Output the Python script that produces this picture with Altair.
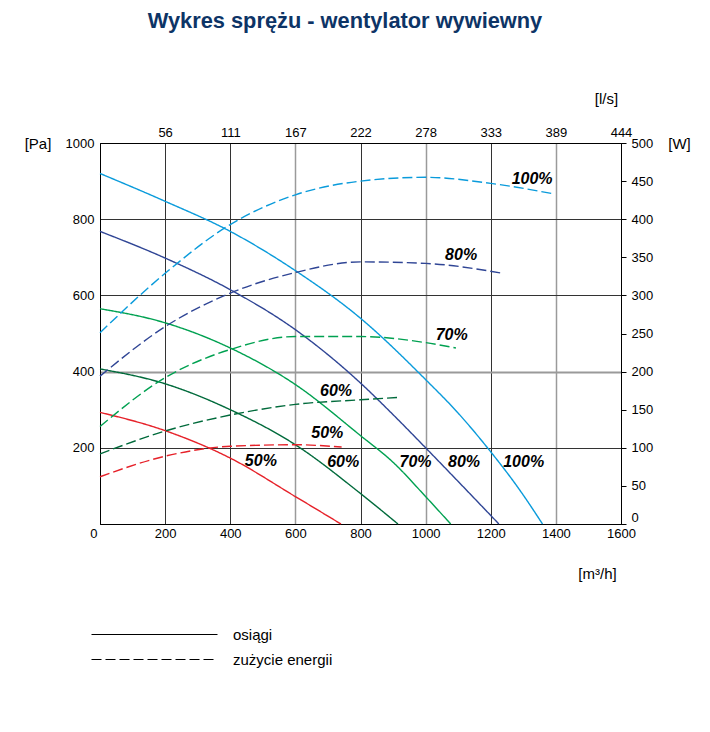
import altair as alt
import pandas as pd

TITLE = "Wykres sprężu - wentylator wywiewny"
SERIES = ["100%", "80%", "70%", "60%", "50%"]
COLORS = ["#0a9bdb", "#2f4595", "#00a151", "#006a3b", "#e62129"]
TYPES = ["osiągi", "zużycie energii"]

# x axis (m3/h) ticks and matching l/s labels
X_TICKS = [0, 200, 400, 600, 800, 1000, 1200, 1400, 1600]
LS_LABELS = ["56", "111", "167", "222", "278", "333", "389", "444"]
PA_TICKS = [200, 400, 600, 800, 1000]
W_TICKS = [0, 50, 100, 150, 200, 250, 300, 350, 400, 450, 500]

# performance curves (osiągi): flow [m3/h] -> pressure [Pa]
Q_OS_100 = [0, 200, 400, 600, 800, 1000, 1100, 1190, 1290, 1359]
PA_OS_100 = [920, 847, 768, 665, 540, 379, 291, 200, 88, 0]
Q_OS_80 = [0, 200, 400, 600, 800, 900, 1000, 1113, 1225]
PA_OS_80 = [768, 698, 615, 510, 370, 287, 200, 100, 0]
Q_OS_70 = [0, 200, 400, 600, 800, 900, 1000, 1077]
PA_OS_70 = [565, 528, 462, 366, 232, 162, 72, 0]
Q_OS_60 = [0, 200, 400, 600, 800, 915]
PA_OS_60 = [407, 368, 300, 208, 80, 0]
Q_OS_50 = [0, 200, 400, 600, 740]
PA_OS_50 = [293, 245, 173, 72, 0]

# power curves (zużycie energii): flow [m3/h] -> power [W]
Q_EN_100 = [0, 200, 400, 600, 800, 1000, 1200, 1397]
W_EN_100 = [251, 329, 393, 432, 450, 455, 447, 433]
Q_EN_80 = [0, 200, 400, 600, 800, 1000, 1237]
W_EN_80 = [194, 259, 303, 330, 344, 342, 329]
Q_EN_70 = [0, 200, 400, 600, 800, 1000, 1093]
W_EN_70 = [128, 192, 229, 246, 246, 238, 231]
Q_EN_60 = [0, 200, 400, 600, 800, 915]
W_EN_60 = [92, 122, 143, 157, 163, 166]
Q_EN_50 = [0, 200, 400, 600, 742]
W_EN_50 = [62, 89, 102, 104, 101]

# curve labels
LABEL_TEXT = ["100%", "80%", "70%", "60%", "50%", "50%", "60%", "70%", "80%", "100%"]
LABEL_Q = [1327, 1109, 1080, 725, 698, 494, 747, 969, 1118, 1301]
LABEL_PA = [906, 707, 497, 350, 240, 166, 162, 162, 162, 162]

FONT = "Liberation Sans"

os_sets = [(Q_OS_100, PA_OS_100), (Q_OS_80, PA_OS_80), (Q_OS_70, PA_OS_70),
           (Q_OS_60, PA_OS_60), (Q_OS_50, PA_OS_50)]
en_sets = [(Q_EN_100, W_EN_100), (Q_EN_80, W_EN_80), (Q_EN_70, W_EN_70),
           (Q_EN_60, W_EN_60), (Q_EN_50, W_EN_50)]

rows_os = []
for s, c, (qs, vs) in zip(SERIES, COLORS, os_sets):
    for q, v in zip(qs, vs):
        rows_os.append({"seria": s, "kolor": c, "typ": TYPES[0], "Q": q, "Pa": v})
rows_en = []
for s, c, (qs, vs) in zip(SERIES, COLORS, en_sets):
    for q, v in zip(qs, vs):
        rows_en.append({"seria": s, "kolor": c, "typ": TYPES[1], "Q": q, "W": v})
df_os = pd.DataFrame(rows_os)
df_en = pd.DataFrame(rows_en)
df_lab = pd.DataFrame({"t": LABEL_TEXT, "Q": LABEL_Q, "Pa": LABEL_PA})

ls_expr = ""
for v, l in zip(X_TICKS[1:], LS_LABELS):
    ls_expr += f"datum.value=={v}?'{l}':"
ls_expr += "''"

grid_light = "datum.value==600||datum.value==1000||datum.value==1400"

xscale = alt.Scale(domain=[0, 1600], nice=False, zero=False)

dash_scale = alt.Scale(domain=TYPES, range=[[1, 0], [10, 4]])
legend = alt.Legend(
    title=None, orient="none", legendX=47, legendY=484,
    symbolType="M-12.6,0H12.6", symbolSize=100,
    symbolStrokeColor="black", symbolStrokeWidth=1.2,
    labelFont=FONT, labelFontSize=15, labelColor="black",
    labelOffset=71, rowPadding=9, direction="vertical", padding=0,
)

solid = alt.Chart(df_os).mark_line(interpolate="monotone", strokeWidth=1.4).encode(
    x=alt.X("Q:Q", scale=xscale, axis=alt.Axis(
        orient="bottom", values=X_TICKS, grid=True, ticks=False, format="d",
        labelPadding=3, labelFlush=False,
        labelAlign={"condition": {"test": "datum.value===0", "value": "right"}, "value": "center"},
        labelOffset={"condition": {"test": "datum.value===0", "value": -3}, "value": 0},
        gridColor={"condition": {"test": grid_light, "value": "#9a9a9a"}, "value": "#333333"},
        gridWidth={"condition": {"test": grid_light, "value": 1.5}, "value": 1},
        title="[m³/h]", titleX=497, titleY=49, titleAlign="center", titleBaseline="middle",
    )),
    y=alt.Y("Pa:Q", scale=alt.Scale(domain=[0, 1000], nice=False), axis=alt.Axis(
        orient="left", values=PA_TICKS, grid=True, ticks=False, labelPadding=6,
        labelFlush=False, format="d",
        gridColor={"condition": {"test": "datum.value===400", "value": "#9a9a9a"}, "value": "#333333"},
        gridWidth={"condition": {"test": "datum.value===400", "value": 2}, "value": 1},
        title="[Pa]", titleAngle=0, titleX=-62.5, titleY=0, titleAlign="center",
        titleBaseline="middle",
    )),
    color=alt.Color("kolor:N", scale=None),
    strokeDash=alt.StrokeDash("typ:N", scale=dash_scale, legend=legend),
    detail="seria:N",
)

dashed = alt.Chart(df_en).mark_line(interpolate="monotone", strokeWidth=1.4).encode(
    x=alt.X("Q:Q", scale=xscale, axis=None),
    y=alt.Y("W:Q", scale=alt.Scale(domain=[0, 500], nice=False), axis=alt.Axis(
        orient="right", values=W_TICKS, grid=False, ticks=True, tickSize=5,
        tickColor="black", labelPadding=5, labelFlush=False, format="d",
        labelBaseline={"condition": {"test": "datum.value===0", "value": "bottom"}, "value": "middle"},
        title="[W]", titleAngle=0, titleX=58, titleY=0, titleAlign="center",
        titleBaseline="middle",
    )),
    color=alt.Color("kolor:N", scale=None),
    strokeDash=alt.StrokeDash("typ:N", scale=dash_scale, legend=legend),
    detail="seria:N",
)

labels = alt.Chart(df_lab).mark_text(
    font=FONT, fontSize=16, fontWeight="bold", fontStyle="italic",
    color="black", align="center", baseline="middle",
).encode(
    x=alt.X("Q:Q", scale=xscale, axis=alt.Axis(
        orient="top", values=X_TICKS[1:], grid=False, ticks=False, labelPadding=4,
        labelExpr=ls_expr, labelFlush=False,
        title="[l/s]", titleX=506, titleY=-45, titleAlign="center", titleBaseline="middle",
    )),
    y=alt.Y("Pa:Q", scale=alt.Scale(domain=[0, 1000], nice=False), axis=None),
    text="t:N",
)

chart = alt.layer(solid, dashed, labels).resolve_scale(
    y="independent"
).resolve_axis(
    x="independent", y="independent"
).properties(
    width=521, height=381,
    padding={"left": 92, "top": 135, "right": 80, "bottom": 190},
    autosize=alt.AutoSizeParams(type="none"),
    title=alt.TitleParams(
        TITLE, font=FONT, fontSize=21.8, fontWeight="bold", color="#0d3466",
        anchor="middle", frame="group", offset=58, dx=-15.5,
    ),
).configure_view(
    stroke="black", strokeWidth=1
).configure_axis(
    labelFont=FONT, labelFontSize=13, labelColor="black",
    titleFont=FONT, titleFontSize=15, titleFontWeight="normal", titleColor="black",
    domainColor="black", domainWidth=1,
)

chart.save("out.html", embed_options={"renderer": "svg", "actions": False})
